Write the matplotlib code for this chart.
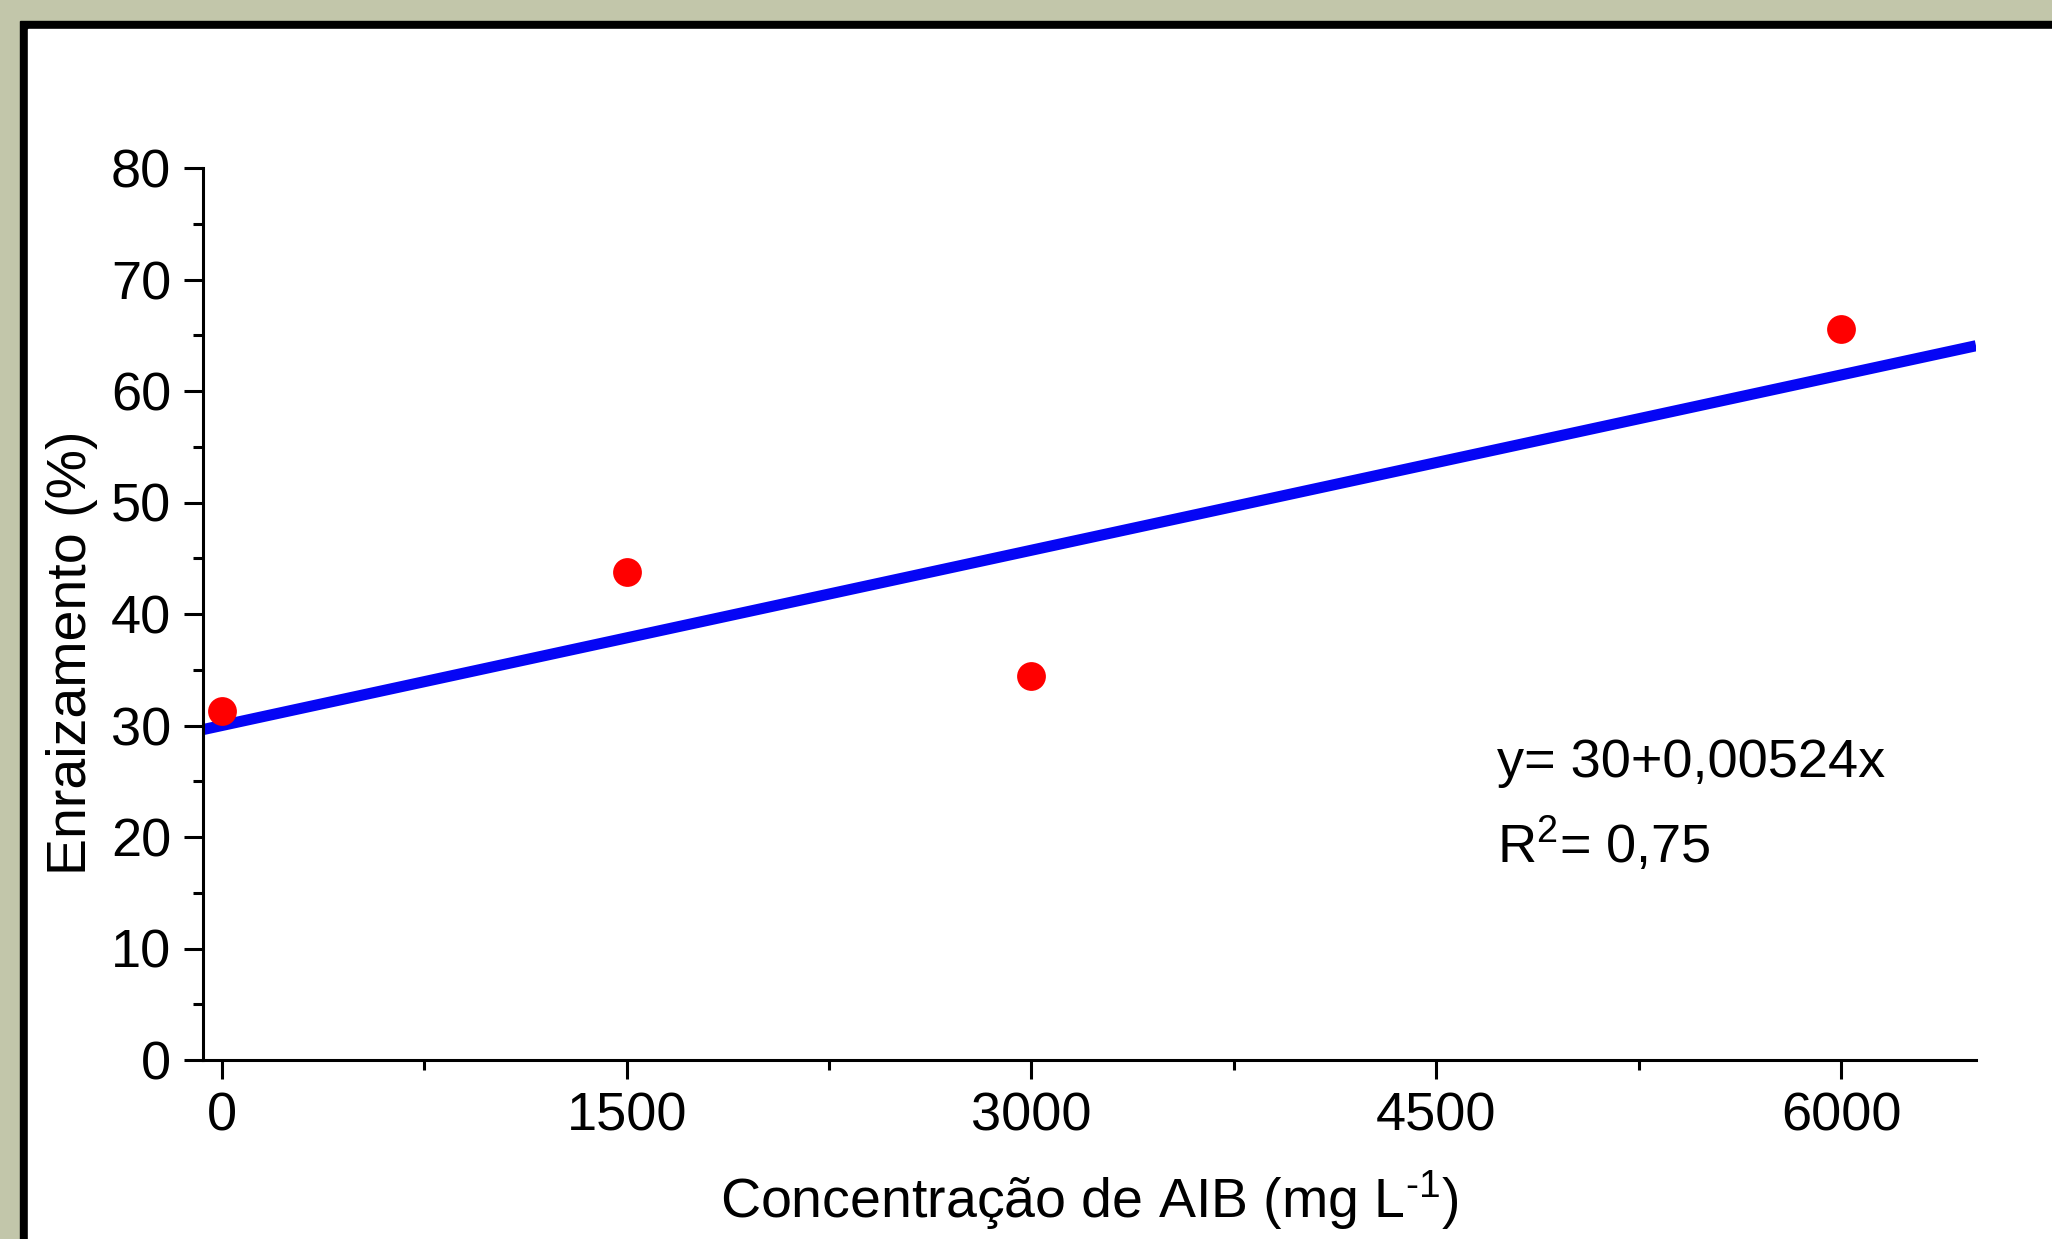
import matplotlib.pyplot as plt
import numpy as np
from matplotlib.patches import Rectangle

plt.rcParams.update({
    "font.family": "Liberation Sans",
    "mathtext.fontset": "custom",
    "mathtext.rm": "Liberation Sans",
    "mathtext.it": "Liberation Sans",
})

# data
conc = [0, 1500, 3000, 6000]
rooting = [31.3, 43.8, 34.4, 65.6]
intercept = 30
slope = 0.00524
xticks = [0, 1500, 3000, 4500, 6000]
yticks = [0, 10, 20, 30, 40, 50, 60, 70, 80]

W, H = 2052, 1239
fig = plt.figure(figsize=(W / 100, H / 100), dpi=100)
fig.patch.set_facecolor("#c2c6aa")

# white panel with black frame on top/left (pixel coords -> fig fraction)
def px(x, y):
    return x / W, 1 - y / H

fig.patches.append(Rectangle(px(20, H + 10), (W + 10) / W, (H - 21 + 10) / H,
                             transform=fig.transFigure, color="black", zorder=-10))
fig.patches.append(Rectangle(px(28, H + 10), (W + 10) / W, (H - 29 + 10) / H,
                             transform=fig.transFigure, color="white", zorder=-9))

ax = fig.add_axes([203 / W, 179 / H, (1976 - 203) / W, (1060 - 168) / H])
ax.set_facecolor("none")

xl = np.array([-70, 6500])
ax.plot(xl, intercept + slope * xl, color="#0505f5", lw=8, zorder=2, solid_capstyle="butt")
ax.scatter(conc, rooting, s=430, color="#ff0000", zorder=3, linewidths=0)

ax.set_xlim(-70, 6500)
ax.set_ylim(0, 80)
ax.set_xticks(xticks)
ax.set_yticks(yticks)
ax.set_xticks([750, 2250, 3750, 5250], minor=True)
ax.set_yticks(np.arange(5, 80, 10), minor=True)

for s in ["top", "right"]:
    ax.spines[s].set_visible(False)
for s in ["left", "bottom"]:
    ax.spines[s].set_linewidth(2.2)

ax.tick_params(which="major", direction="out", length=14, width=2.2, labelsize=39, pad=9)
ax.tick_params(which="minor", direction="out", length=7, width=2.2)

ax.set_xlabel(r"Concentração de AIB (mg L$^{\text{-1}}$)", fontsize=40, va="baseline")
ax.xaxis.set_label_coords(0.5, -0.177)
ax.set_ylabel("Enraizamento (%)", fontsize=40, va="center")
ax.yaxis.set_label_coords(-0.074, 0.456)

ax.text(4724, 26.6, "y= 30+0,00524x", fontsize=39, va="center", ha="left")
ax.text(4724, 19.3, r"R$^{\mathregular{2}}$= 0,75", fontsize=39, va="center", ha="left")

fig.savefig("out.png", dpi=100, facecolor=fig.get_facecolor())
